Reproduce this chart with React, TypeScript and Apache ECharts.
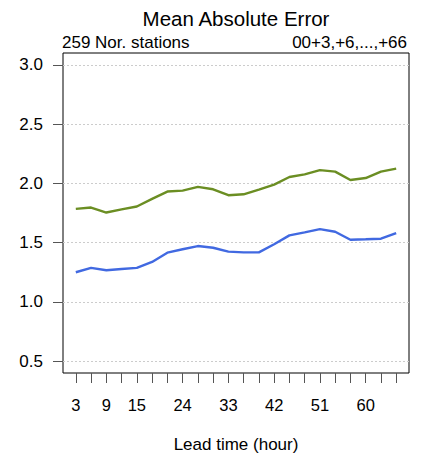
import React, { useEffect, useRef } from "react";
import * as echarts from "echarts";

const leadTimes = [3, 6, 9, 12, 15, 18, 21, 24, 27, 30, 33, 36, 39, 42, 45, 48, 51, 54, 57, 60, 63, 66];
const xTickLabels = [3, 9, 15, 24, 33, 42, 51, 60];
const yTickValues = [0.5, 1.0, 1.5, 2.0, 2.5, 3.0];
const greenSeries = [1.785, 1.796, 1.754, 1.78, 1.805, 1.869, 1.931, 1.939, 1.97, 1.95, 1.9, 1.908, 1.948, 1.99, 2.054, 2.076, 2.112, 2.099, 2.028, 2.045, 2.099, 2.124];
const blueSeries = [1.25, 1.287, 1.267, 1.278, 1.287, 1.337, 1.415, 1.444, 1.471, 1.457, 1.424, 1.418, 1.418, 1.486, 1.561, 1.587, 1.614, 1.592, 1.524, 1.528, 1.533, 1.581];

const FONT = "'Liberation Sans', Arial, Helvetica, sans-serif";

export default function App() {
  const ref = useRef<HTMLDivElement>(null);
  useEffect(() => {
    if (!ref.current) return;
    const chart = echarts.init(ref.current, undefined, { renderer: "svg" });
    const option: any = {
      animation: false,
      backgroundColor: "#ffffff",
      textStyle: { fontFamily: FONT },
      grid: {
        left: 63,
        top: 53,
        width: 346,
        height: 320,
        show: true,
        borderColor: "#000000",
        borderWidth: 1,
        backgroundColor: "transparent",
      },
      xAxis: {
        type: "value",
        min: 0.48,
        max: 68.52,
        axisLine: { show: false },
        splitLine: { show: false },
        axisTick: {
          show: true,
          length: 10,
          customValues: leadTimes,
          lineStyle: { color: "#555555", width: 1 },
        },
        axisLabel: {
          customValues: xTickLabels,
          margin: 23,
          fontSize: 16.5,
          color: "#000000",
          fontFamily: FONT,
        },
      },
      yAxis: {
        type: "value",
        min: 0.4,
        max: 3.1,
        axisLine: { show: false },
        axisTick: {
          show: true,
          length: 10,
          customValues: yTickValues,
          lineStyle: { color: "#555555", width: 1 },
        },
        axisLabel: {
          customValues: yTickValues,
          margin: 20,
          fontSize: 17,
          color: "#000000",
          fontFamily: FONT,
          formatter: (v: number) => v.toFixed(1),
        },
        splitLine: {
          show: true,
          lineStyle: { color: "#cccccc", type: [2, 2], width: 1 },
        },
      },
      series: [
        {
          type: "line",
          data: leadTimes.map((t, i) => [t, greenSeries[i]]),
          showSymbol: false,
          lineStyle: { color: "#6B8E23", width: 2.4 },
          itemStyle: { color: "#6B8E23" },
        },
        {
          type: "line",
          data: leadTimes.map((t, i) => [t, blueSeries[i]]),
          showSymbol: false,
          lineStyle: { color: "#4169E1", width: 2.4 },
          itemStyle: { color: "#4169E1" },
        },
      ],
      graphic: [
        {
          type: "text",
          x: 236,
          y: 18,
          style: {
            text: "Mean Absolute Error",
            font: `20.5px ${FONT}`,
            fill: "#000000",
            textAlign: "center",
            textVerticalAlign: "middle",
          },
        },
        {
          type: "text",
          x: 62,
          y: 42,
          style: {
            text: "259 Nor. stations",
            font: `17px ${FONT}`,
            fill: "#000000",
            textAlign: "left",
            textVerticalAlign: "middle",
          },
        },
        {
          type: "text",
          x: 407,
          y: 42,
          style: {
            text: "00+3,+6,...,+66",
            font: `17px ${FONT}`,
            fill: "#000000",
            textAlign: "right",
            textVerticalAlign: "middle",
          },
        },
        {
          type: "text",
          x: 236,
          y: 444.5,
          style: {
            text: "Lead time (hour)",
            font: `17px ${FONT}`,
            fill: "#000000",
            textAlign: "center",
            textVerticalAlign: "middle",
          },
        },
      ],
    };
    chart.setOption(option);
    return () => chart.dispose();
  }, []);
  return (
    <div
      ref={ref}
      style={{ position: "fixed", left: 0, top: 0, width: 428, height: 459 }}
    />
  );
}
